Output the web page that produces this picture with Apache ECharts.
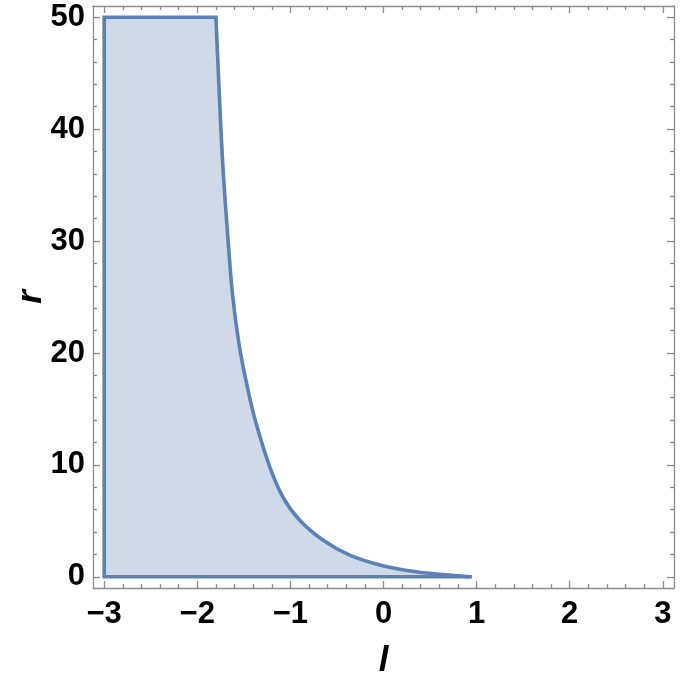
<!DOCTYPE html>
<html>
<head>
<meta charset="utf-8">
<script src="https://cdn.jsdelivr.net/npm/echarts@6/dist/echarts.min.js"></script>
<style>
html,body{margin:0;padding:0;background:#fff;}
#c{width:689px;height:678px;}
</style>
</head>
<body>
<div id="c"></div>
<script>
// Region boundary: left edge l=-3, bottom r=0, top r=50, right edge = curve
const curveL = [-1.80, -1.745, -1.717, -1.674, -1.62, -1.548, -1.458, -1.368, -1.225, -1.082, -0.902, -0.651, -0.364, -0.006, 0.35, 0.71, 0.93];
const curveR = [50, 39.8, 35.6, 30.6, 25.1, 20.6, 16.8, 13.7, 9.9, 7.15, 5.08, 3.29, 1.94, 0.99, 0.45, 0.15, 0.0];
const regionLeft = -3;
const regionBottom = 0;
const regionTop = 50;

const xMajor = [-3, -2, -1, 0, 1, 2, 3];
const xMinor = [-2.8,-2.6,-2.4,-2.2,-1.8,-1.6,-1.4,-1.2,-0.8,-0.6,-0.4,-0.2,0.2,0.4,0.6,0.8,1.2,1.4,1.6,1.8,2.2,2.4,2.6,2.8];
const yMajor = [0, 10, 20, 30, 40, 50];
const yMinor = [2,4,6,8,12,14,16,18,22,24,26,28,32,34,36,38,42,44,46,48];

const xRange = [-3.12, 3.12];
const yRange = [-1, 51];

const polyL = [regionLeft, regionLeft].concat(curveL);
const polyR = [regionBottom, regionTop].concat(curveR);
const lastL = curveL[curveL.length - 1];
const edgeData = [[lastL, regionBottom], [regionLeft, regionBottom], [regionLeft, regionTop], [curveL[0], regionTop]];

const frameColor = '#8a8a8a';
const stroke = '#5e81b5';
const fill = '#cfd9e9';
const font = '"Liberation Sans", Arial, sans-serif';

function fmt(v){ return v < 0 ? '\u2212' + Math.abs(v) : String(v); }

function xAx(pos, ticks, len, showLine, showLabel, extra){
  return Object.assign({
    type:'value', position:pos, min:xRange[0], max:xRange[1],
    splitLine:{show:false},
    axisLine:{show:showLine, onZero:false, lineStyle:{color:frameColor, width:1.3}},
    axisTick:{show:true, inside:true, length:len, customValues:ticks, lineStyle:{color:frameColor, width:1.3}},
    axisLabel: showLabel ? {show:true, customValues:xMajor, formatter:fmt, color:'#000', fontSize:31, fontWeight:'bold', fontFamily:font, margin:11} : {show:false}
  }, extra||{});
}
function yAx(pos, ticks, len, showLine, showLabel, extra){
  return Object.assign({
    type:'value', position:pos, min:yRange[0], max:yRange[1],
    splitLine:{show:false},
    axisLine:{show:showLine, onZero:false, lineStyle:{color:frameColor, width:1.3}},
    axisTick:{show:true, inside:true, length:len, customValues:ticks, lineStyle:{color:frameColor, width:1.3}},
    axisLabel: showLabel ? {show:true, customValues:yMajor, formatter:fmt, color:'#000', fontSize:31, fontWeight:'bold', fontFamily:font, margin:8} : {show:false}
  }, extra||{});
}

const chart = echarts.init(document.getElementById('c'), null, {renderer:'canvas'});
chart.setOption({
  backgroundColor:'#fff',
  animation:false,
  grid:{left:93, right:15, top:6, bottom:90, containLabel:false, outerBoundsMode:'none'},
  xAxis:[
    xAx('bottom', xMajor, 7, true, true, {name:'l', nameLocation:'middle', nameGap:56, nameMoveOverlap:false,
      nameTextStyle:{color:'#000', fontSize:35, fontWeight:'bold', fontStyle:'italic', fontFamily:font}}),
    xAx('bottom', xMinor, 4, false, false),
    xAx('top', xMajor, 7, true, false),
    xAx('top', xMinor, 4, false, false)
  ],
  yAxis:[
    yAx('left', yMajor, 7, true, true, {name:'r', nameLocation:'middle', nameGap:44, nameRotate:90, nameMoveOverlap:false,
      nameTextStyle:{color:'#000', fontSize:35, fontWeight:'bold', fontStyle:'italic', fontFamily:font}}),
    yAx('left', yMinor, 4, false, false),
    yAx('right', yMajor, 7, true, false),
    yAx('right', yMinor, 4, false, false)
  ],
  series:[
    {
      type:'custom', xAxisIndex:0, yAxisIndex:0, data:[[0,0]], silent:true, z:2,
      renderItem:function(params, api){
        const pts = polyL.map((l,i)=>api.coord([l, polyR[i]]));
        return {type:'polygon', shape:{points:pts}, style:{fill:fill, stroke:null, lineWidth:0}};
      }
    },
    {
      type:'line', xAxisIndex:0, yAxisIndex:0, z:3, silent:true, symbol:'none',
      data: edgeData,
      lineStyle:{color:stroke, width:3.6, join:'miter', cap:'square'}
    },
    {
      type:'line', xAxisIndex:0, yAxisIndex:0, z:3, silent:true, symbol:'none',
      smooth:0.4,
      data: curveL.map((l,i)=>[l, curveR[i]]),
      lineStyle:{color:stroke, width:3.6, cap:'butt', join:'round'}
    }
  ]
});
</script>
</body>
</html>
